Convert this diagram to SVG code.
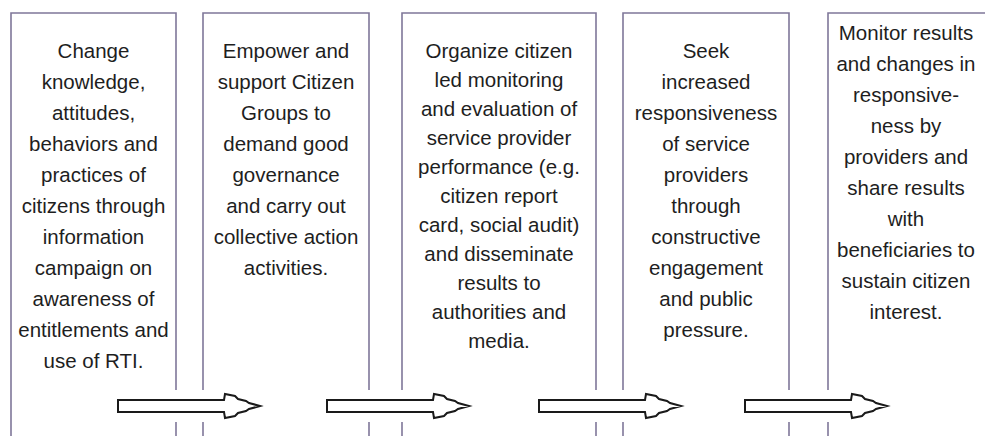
<svg xmlns="http://www.w3.org/2000/svg" width="985" height="436" viewBox="0 0 985 436">
<style>
.box{fill:none;stroke:#7f7799;stroke-width:1.6}
.t{font-family:"Liberation Sans",Arial,sans-serif;font-size:20.5px;fill:#1e1e1e;text-anchor:middle}
.arr{fill:#fff;stroke:#1a1a1a;stroke-width:2;stroke-linejoin:miter}
</style>
<defs>
<path id="arrow" class="arr" d="M0,-6 H106 L107,-12 L117,-10 L120,-7 L128,-5 L131,-3 L142,0 L131,3 L128,5 L120,7 L117,10 L107,12 L106,6 H0 Z"/>
</defs>
<rect width="985" height="436" fill="#fff"/>
<g id="node1">
<path class="box" d="M11,436 V13 H176 V390 M176,422 V436"/>
<text class="t" x="93.5" y="58">Change</text>
<text class="t" x="93.5" y="89">knowledge,</text>
<text class="t" x="93.5" y="120">attitudes,</text>
<text class="t" x="93.5" y="151">behaviors and</text>
<text class="t" x="93.5" y="182">practices of</text>
<text class="t" x="93.5" y="213">citizens through</text>
<text class="t" x="93.5" y="244">information</text>
<text class="t" x="93.5" y="275">campaign on</text>
<text class="t" x="93.5" y="306">awareness of</text>
<text class="t" x="93.5" y="337">entitlements and</text>
<text class="t" x="93.5" y="368">use of RTI.</text>
</g>
<g id="node2">
<path class="box" d="M203,390 V13 H369 V390 M203,422 V436 M369,422 V436"/>
<text class="t" x="286" y="58">Empower and</text>
<text class="t" x="286" y="89">support Citizen</text>
<text class="t" x="286" y="120">Groups to</text>
<text class="t" x="286" y="151">demand good</text>
<text class="t" x="286" y="182">governance</text>
<text class="t" x="286" y="213">and carry out</text>
<text class="t" x="286" y="244">collective action</text>
<text class="t" x="286" y="275">activities.</text>
</g>
<g id="node3">
<path class="box" d="M402,390 V13 H596 V390 M402,422 V436 M596,422 V436"/>
<text class="t" x="499" y="58">Organize citizen</text>
<text class="t" x="499" y="87">led monitoring</text>
<text class="t" x="499" y="116">and evaluation of</text>
<text class="t" x="499" y="145">service provider</text>
<text class="t" x="499" y="174">performance (e.g.</text>
<text class="t" x="499" y="203">citizen report</text>
<text class="t" x="499" y="232">card, social audit)</text>
<text class="t" x="499" y="261">and disseminate</text>
<text class="t" x="499" y="290">results to</text>
<text class="t" x="499" y="319">authorities and</text>
<text class="t" x="499" y="348">media.</text>
</g>
<g id="node4">
<path class="box" d="M623,390 V13 H789 V390 M623,422 V436 M789,422 V436"/>
<text class="t" x="706" y="58">Seek</text>
<text class="t" x="706" y="89">increased</text>
<text class="t" x="706" y="120">responsiveness</text>
<text class="t" x="706" y="151">of service</text>
<text class="t" x="706" y="182">providers</text>
<text class="t" x="706" y="213">through</text>
<text class="t" x="706" y="244">constructive</text>
<text class="t" x="706" y="275">engagement</text>
<text class="t" x="706" y="306">and public</text>
<text class="t" x="706" y="337">pressure.</text>
</g>
<g id="node5">
<path class="box" d="M828,390 V13 H985 M828,422 V436"/>
<text class="t" x="906" y="40">Monitor results</text>
<text class="t" x="906" y="71">and changes in</text>
<text class="t" x="906" y="102">responsive-</text>
<text class="t" x="906" y="133">ness by</text>
<text class="t" x="906" y="164">providers and</text>
<text class="t" x="906" y="195">share results</text>
<text class="t" x="906" y="226">with</text>
<text class="t" x="906" y="257">beneficiaries to</text>
<text class="t" x="906" y="288">sustain citizen</text>
<text class="t" x="906" y="319">interest.</text>
</g>
<g id="connectors">
<use href="#arrow" transform="translate(118,406)"/>
<use href="#arrow" transform="translate(327,406)"/>
<use href="#arrow" transform="translate(539,406)"/>
<use href="#arrow" transform="translate(745,406)"/>
</g>
</svg>
